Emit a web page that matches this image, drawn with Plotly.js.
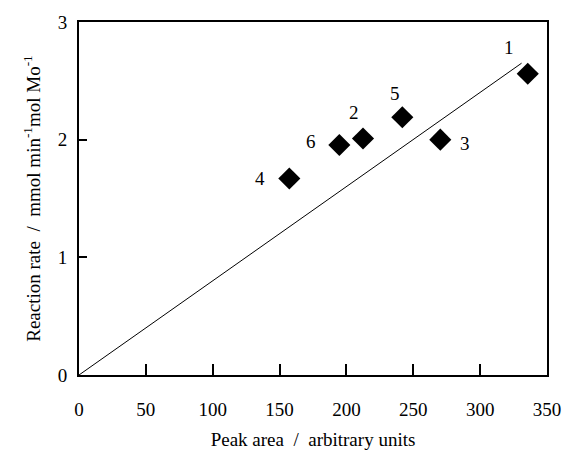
<!DOCTYPE html>
<html>
<head>
<meta charset="utf-8">
<script src="https://cdn.plot.ly/plotly-3.0.1.min.js"></script>
<style>html,body{margin:0;padding:0;background:#fff;}#chart{width:563px;height:461px;}</style>
</head>
<body>
<div id="chart"></div>
<script>
// Data
const sampleLabels = ['1', '2', '3', '4', '5', '6'];
const peakArea = [335.6, 212.4, 270.2, 157.3, 241.8, 194.7];
const reactionRate = [2.56, 2.01, 2.00, 1.67, 2.19, 1.955];
const fitX = [0, 331];
const fitY = [0, 2.65];
const xTicks = [0, 50, 100, 150, 200, 250, 300, 350];
const yTicks = [0, 1, 2, 3];

// Label offsets (px) relative to each point
const labelShift = {
  '1': [-19, 26], '2': [-9, 26], '3': [25, -4],
  '4': [-29, 0], '5': [-7, 24], '6': [-28, 3]
};

const FONT = 'Liberation Serif';

const traces = [
  {x: fitX, y: fitY, mode: 'lines', type: 'scatter', line: {color: '#000', width: 1}, hoverinfo: 'skip', showlegend: false},
  {x: peakArea, y: reactionRate, mode: 'markers', type: 'scatter', marker: {symbol: 'diamond', size: 17, color: '#000'}, showlegend: false}
];

const annotations = sampleLabels.map((lab, i) => ({
  x: peakArea[i], y: reactionRate[i], xref: 'x', yref: 'y', text: lab, showarrow: false,
  xshift: labelShift[lab][0], yshift: labelShift[lab][1], font: {family: FONT, size: 19, color: '#000'}
}));

const layout = {
  width: 563, height: 461,
  margin: {l: 79, r: 16, t: 22, b: 86},
  font: {family: FONT, size: 19, color: '#000'},
  showlegend: false,
  xaxis: {
    range: [0, 350], tickmode: 'array', tickvals: xTicks,
    ticks: 'inside', ticklen: 11, tickwidth: 2, tickcolor: '#000',
    showline: true, linewidth: 2, linecolor: '#000', mirror: true,
    showgrid: false, zeroline: false, ticklabelstandoff: 16,
    tickfont: {family: FONT, size: 19, color: '#000'},
    title: {text: 'Peak area\u00a0 /\u00a0 arbitrary units', font: {family: FONT, size: 19, color: '#000'}, standoff: 14}
  },
  yaxis: {
    range: [0, 3], tickmode: 'array', tickvals: yTicks,
    ticks: 'inside', ticklen: 8, tickwidth: 2, tickcolor: '#000',
    showline: true, linewidth: 2, linecolor: '#000', mirror: true,
    showgrid: false, zeroline: false, ticklabelstandoff: 6,
    tickfont: {family: FONT, size: 19, color: '#000'},
    title: {text: 'Reaction rate\u00a0 /\u00a0 mmol min<sup>-1</sup>mol Mo<sup>-1</sup>', font: {family: FONT, size: 19, color: '#000'}, standoff: 12}
  },
  annotations: annotations
};

Plotly.newPlot('chart', traces, layout, {staticPlot: true});
</script>
</body>
</html>
